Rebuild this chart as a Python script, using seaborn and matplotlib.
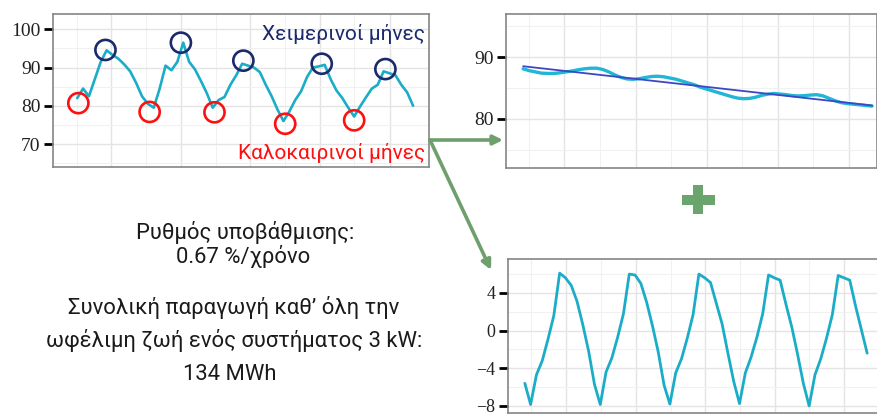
#!/usr/bin/env python3
# Decomposition figure: monthly PV output -> trend + seasonal component

import numpy as np
import pandas as pd
import matplotlib.pyplot as plt
import seaborn as sns
from matplotlib.patches import FancyArrowPatch, Rectangle

# ============================================================================
# DATA
# ============================================================================
# monthly performance series (top-left panel)
performance = [82.0, 84.5, 82.5, 87.0, 91.5, 94.5, 93.3, 92.3, 90.8, 89.0,
               86.0, 82.5, 80.5, 79.5, 84.5, 90.5, 89.3, 91.5, 96.5, 91.5,
               89.5, 86.5, 83.3, 79.5, 81.5, 82.3, 85.5, 88.0, 91.0, 90.5,
               90.0, 88.8, 85.5, 82.5, 79.0, 76.0, 78.5, 81.5, 83.8, 87.5,
               90.0, 90.3, 90.7, 87.0, 84.0, 82.0, 79.5, 77.2, 79.8, 82.2,
               84.5, 85.5, 89.0, 88.5, 88.0, 85.5, 83.5, 80.0]

# winter peaks / summer troughs marked with circles (month index, value)
winter_month = [4.8, 17.6, 28.2, 41.5, 52.3]
winter_value = [94.6, 96.5, 91.8, 91.0, 89.6]
summer_month = [0.2, 12.3, 23.3, 35.3, 47.0]
summer_value = [80.7, 78.4, 78.3, 75.3, 76.2]

# trend component (top-right panel)
trend = [88.1, 87.8, 87.6, 87.4, 87.35, 87.35, 87.45, 87.6, 87.75, 87.95,
         88.1, 88.2, 88.2, 88.0, 87.6, 87.1, 86.7, 86.45, 86.4, 86.5,
         86.7, 86.85, 86.9, 86.8, 86.6, 86.4, 86.1, 85.8, 85.5, 85.1,
         84.8, 84.5, 84.2, 83.9, 83.6, 83.35, 83.25, 83.3, 83.5, 83.8,
         84.0, 84.1, 84.0, 83.9, 83.75, 83.7, 83.75, 83.85, 83.9, 83.7,
         83.3, 82.9, 82.6, 82.45, 82.35, 82.25, 82.15, 82.05]

# seasonal component (bottom-right panel)
seasonal = [-5.6, -7.85, -4.7, -3.2, -0.9, 1.6, 6.1, 5.6, 4.8, 3.1, 0.6, -2.2,
            -5.7, -7.85, -4.4, -2.9, -0.7, 1.8, 6.0, 5.9, 5.0, 3.0, 0.5, -2.3,
            -5.8, -7.8, -4.5, -3.0, -0.8, 1.7, 6.0, 5.6, 5.1, 2.9, 0.7, -2.4,
            -5.4, -7.75, -4.5, -2.8, -0.7, 1.8, 5.9, 5.6, 5.35, 2.8, 0.4, -2.5,
            -5.6, -8.0, -4.7, -3.0, -0.8, 1.7, 5.85, 5.6, 5.35, 2.6, 0.1, -2.4]

perf_df = pd.DataFrame({"month": np.arange(len(performance)), "value": performance})
trend_df = pd.DataFrame({"month": np.arange(len(trend)), "value": trend})
seas_df = pd.DataFrame({"month": np.arange(len(seasonal)), "value": seasonal})

# ============================================================================
# THEME SETTINGS
# ============================================================================
sns.set_theme(style="white")
plt.rcParams['font.family'] = ['Roboto', 'DejaVu Sans']

line_teal = '#1badc7'
navy = '#1a2a6c'
red = '#ff1010'
green = '#6f9f6c'
W, H = 878, 415


def px_axes(fig, left, top, right, bottom):
    return fig.add_axes([left / W, 1 - bottom / H, (right - left) / W, (bottom - top) / H])


def style_axes(ax, xlim, ylim, yticks, yminor, vmajor, vminor, labsize):
    ax.set_xlim(xlim)
    ax.set_ylim(ylim)
    ax.set_yticks(yticks)
    ax.set_yticks(yminor, minor=True)
    ax.set_xticks(vmajor)
    ax.set_xticks(vminor, minor=True)
    ax.set_xticklabels([])
    ax.tick_params(axis='x', which='both', length=0, bottom=False)
    ax.tick_params(axis='y', which='major', left=True, length=6.5, width=2,
                   color='black', pad=2.5, labelsize=labsize, labelcolor='#222222',
                   labelfontfamily='Liberation Serif')
    ax.tick_params(axis='y', which='minor', length=0)
    ax.grid(which='major', color='#e4e4e4', lw=1.0)
    ax.grid(which='minor', color='#f1f1f1', lw=0.8)
    ax.set_axisbelow(True)
    for s in ax.spines.values():
        s.set_color('#858585')
        s.set_linewidth(1.2)
    ax.set_xlabel('')
    ax.set_ylabel('')


# ============================================================================
# CREATE PLOT
# ============================================================================
fig = plt.figure(figsize=(W / 100, H / 100), dpi=100)

# --- top-left: observed series
ax1 = px_axes(fig, 53, 14, 429, 167)
sns.lineplot(data=perf_df, x='month', y='value', color=line_teal, lw=1.9, ax=ax1)
sns.scatterplot(x=winter_month, y=winter_value, s=210, marker='o',
                facecolors='none', edgecolor=navy, linewidth=1.9, ax=ax1, zorder=5)
sns.scatterplot(x=summer_month, y=summer_value, s=210, marker='o',
                facecolors='none', edgecolor=red, linewidth=1.9, ax=ax1, zorder=5)
style_axes(ax1, (-4.1, 59.7), (64, 104), [70, 80, 90, 100], [65, 75, 85, 95],
           [5.8, 17.6, 29.4, 41.2, 53.0], [0, 11.75, 23.5, 35.3, 47.0], 14)
ax1.text(0.99, 0.83, 'Χειμερινοί μήνες', transform=ax1.transAxes, ha='right',
         va='baseline', color=navy, fontsize=15)
ax1.text(0.99, 0.05, 'Καλοκαιρινοί μήνες', transform=ax1.transAxes, ha='right',
         va='baseline', color=red, fontsize=15)

# --- top-right: trend with linear fit
ax2 = px_axes(fig, 506, 14, 877, 168)
sns.lineplot(data=trend_df, x='month', y='value', color='#22b6d6', lw=2.4, ax=ax2)
sns.regplot(data=trend_df, x='month', y='value', scatter=False, ci=None,
            color='#3d47c4', line_kws={'lw': 1.3}, ax=ax2)
style_axes(ax2, (-2.8, 57.8), (72, 97), [80, 90], [75, 85, 95],
           [6.7, 18.5, 30.1, 41.7, 53.3], [1.0, 12.6, 24.2, 35.8, 47.4], 14)

# --- bottom-right: seasonal component
ax3 = px_axes(fig, 508, 259, 884, 413)
sns.lineplot(data=seas_df, x='month', y='value', color=line_teal, lw=2.0, ax=ax3)
style_axes(ax3, (-2.9, 61.9), (-8.75, 7.6), [-8, -4, 0, 4], [-6, -2, 2, 6],
           [7.1, 19.1, 31.0, 43.1, 55.0], [1.0, 13.1, 25.2, 37.1, 49.0], 13)

# --- arrows and plus sign
for end in [(503, 140), (491, 270)]:
    fig.add_artist(FancyArrowPatch((430 / W, 1 - 140 / H), (end[0] / W, 1 - end[1] / H),
                                   transform=fig.transFigure, arrowstyle='-|>',
                                   mutation_scale=14, lw=2.6, color=green,
                                   shrinkA=0, shrinkB=0))
fig.add_artist(Rectangle((682 / W, 1 - 205 / H), 33 / W, 10 / H,
                         transform=fig.transFigure, color='#6aa56d', lw=0))
fig.add_artist(Rectangle((693.5 / W, 1 - 214.5 / H), 9.5 / W, 29 / H,
                         transform=fig.transFigure, color='#6aa56d', lw=0))

# --- annotation text
txt = dict(ha='center', va='baseline', color='#1a1a1a', fontsize=15.8)
fig.text(245 / W, 1 - 239 / H, 'Ρυθμός υποβάθμισης:', **txt)
fig.text(243 / W, 1 - 262.5 / H, '0.67 %/χρόνο', **txt)
fig.text(234 / W, 1 - 314 / H, 'Συνολική παραγωγή καθ’ όλη την', **txt)
fig.text(234 / W, 1 - 347 / H, 'ωφέλιμη ζωή ενός συστήματος 3 kW:', **txt)
fig.text(230 / W, 1 - 380 / H, '134 MWh', **txt)

# ============================================================================
# SAVE OUTPUT
# ============================================================================
plt.savefig("out.png", dpi=100)
plt.close()
